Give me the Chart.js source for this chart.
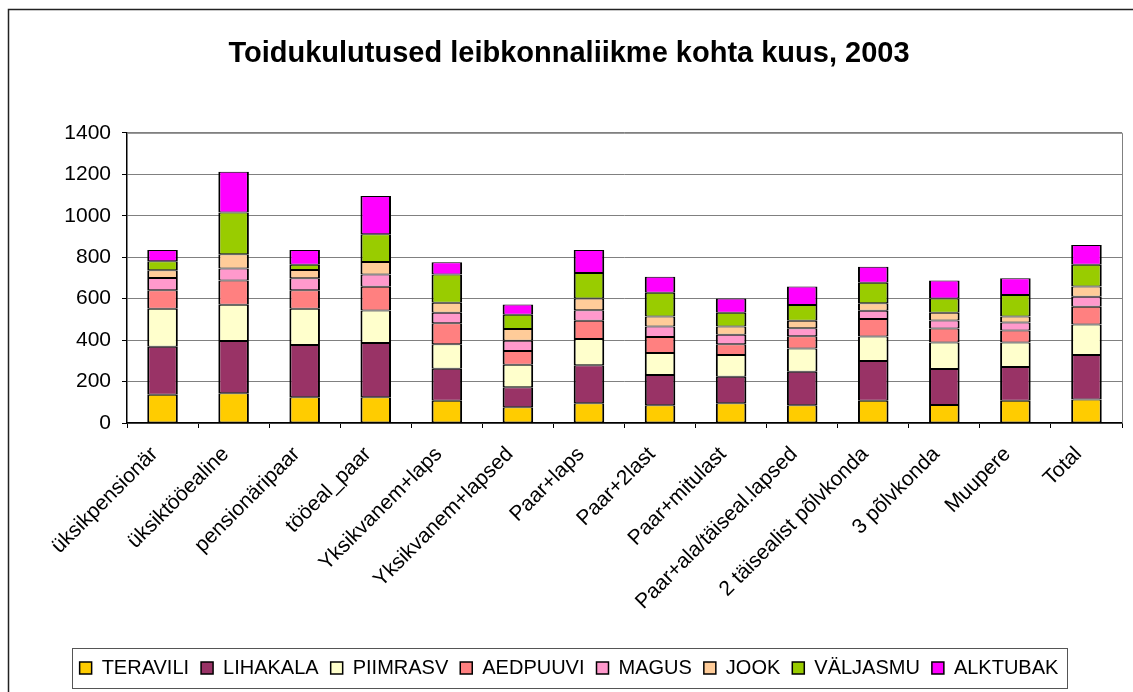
<!DOCTYPE html>
<html>
<head>
<meta charset="utf-8">
<script src="https://cdn.jsdelivr.net/npm/chart.js"></script>
<style>
  html, body { margin: 0; padding: 0; background: #fff; }
</style>
</head>
<body>
<canvas id="foodChart" width="1133" height="692"></canvas>
<script>
const categories = [
  "üksikpensionär", "üksiktööealine", "pensionäripaar", "tööeal_paar",
  "Yksikvanem+laps", "Yksikvanem+lapsed", "Paar+laps", "Paar+2last",
  "Paar+mitulast", "Paar+ala/täiseal.lapsed", "2 täisealist põlvkonda",
  "3 põlvkonda", "Muupere", "Total"
];

const teravili = [136, 144, 124, 124, 107, 76, 95, 86, 95, 86, 107, 87, 107, 113];
const lihakala = [232, 252, 252, 262, 155, 97, 184, 145, 128, 161, 192, 173, 163, 215];
const piimrasv = [183, 174, 175, 157, 118, 108, 126, 107, 105, 112, 118, 128, 118, 147];
const aedpuuvi = [89, 118, 89, 114, 101, 66, 88, 77, 52, 59, 85, 68, 58, 86];
const magus    = [59, 57, 58, 60, 51, 50, 51, 50, 46, 39, 39, 38, 39, 48];
const jook     = [38, 69, 40, 60, 48, 57, 57, 49, 39, 36, 37, 38, 29, 49];
const valjasmu = [43, 201, 26, 134, 136, 68, 123, 114, 67, 76, 99, 69, 103, 105];
const alktubak = [54, 197, 70, 184, 59, 50, 110, 78, 69, 89, 77, 86, 81, 96];

const yTicks = [0, 200, 400, 600, 800, 1000, 1200, 1400];

const FONT = "'Liberation Sans', Arial, sans-serif";
const gridGray = "#808080";

function series(label, data, color) {
  return {
    label: label,
    data: data,
    backgroundColor: color,
    borderColor: "#000",
    borderWidth: { top: 1, bottom: 1, left: 2, right: 2 },
    borderSkipped: false,
    barPercentage: 0.43,
    categoryPercentage: 1
  };
}

// white page, outer frame, plot border and legend box
const frame = {
  id: "frame",
  beforeDraw(chart) {
    const ctx = chart.ctx;
    ctx.save();
    ctx.fillStyle = "#fff";
    ctx.fillRect(0, 0, chart.width, chart.height);
    ctx.strokeStyle = "#222";
    ctx.lineWidth = 1.5;
    ctx.strokeRect(8.5, 9.5, chart.width + 20, chart.height + 20);
    ctx.restore();
  },
  beforeDatasetsDraw(chart) {
    const a = chart.chartArea;
    const ctx = chart.ctx;
    ctx.save();
    ctx.strokeStyle = gridGray;
    ctx.lineWidth = 1;
    ctx.beginPath();
    ctx.moveTo(a.left, a.top + 0.5);
    ctx.lineTo(a.right + 0.5, a.top + 0.5);
    ctx.lineTo(a.right + 0.5, a.bottom);
    ctx.stroke();
    ctx.restore();
  },
  afterDraw(chart) {
    const boxes = chart.legend.legendHitBoxes;
    if (!boxes || !boxes.length) return;
    const left = Math.min(...boxes.map(b => b.left)) - 8;
    const right = Math.max(...boxes.map(b => b.left + b.width)) + 8;
    const top = Math.min(...boxes.map(b => b.top)) - 10;
    const bottom = Math.max(...boxes.map(b => b.top + b.height)) + 10;
    const ctx = chart.ctx;
    ctx.save();
    ctx.strokeStyle = "#555";
    ctx.lineWidth = 1;
    ctx.strokeRect(Math.round(left) + 0.5, Math.round(top) + 0.5, Math.round(right - left), Math.round(bottom - top));
    ctx.restore();
  }
};

const ctx = document.getElementById("foodChart").getContext("2d");
new Chart(ctx, {
  type: "bar",
  data: {
    labels: categories,
    datasets: [
      series("TERAVILI", teravili, "#FFCC00"),
      series("LIHAKALA", lihakala, "#993366"),
      series("PIIMRASV", piimrasv, "#FFFFCC"),
      series("AEDPUUVI", aedpuuvi, "#FF8080"),
      series("MAGUS", magus, "#FF99CC"),
      series("JOOK", jook, "#FFCC99"),
      series("VÄLJASMU", valjasmu, "#99CC00"),
      series("ALKTUBAK", alktubak, "#FF00FF")
    ]
  },
  options: {
    responsive: false,
    animation: false,
    devicePixelRatio: 1,
    layout: { padding: { left: 16, right: 11, top: 0, bottom: 4 } },
    plugins: {
      title: {
        display: true,
        text: "Toidukulutused leibkonnaliikme kohta kuus, 2003",
        color: "#000",
        font: { family: FONT, size: 29, weight: "bold" },
        padding: { top: 37, bottom: 61 }
      },
      legend: {
        position: "bottom",
        labels: {
          color: "#000",
          font: { family: FONT, size: 20 },
          boxWidth: 12,
          boxHeight: 12,
          padding: 12
        }
      },
      tooltip: { enabled: false }
    },
    scales: {
      x: {
        stacked: true,
        afterFit(scale) {
          scale.height = 223;
        },
        grid: {
          offset: true,
          drawOnChartArea: false,
          drawTicks: true,
          tickLength: 5,
          tickColor: "#000"
        },
        border: { color: "#000", width: 1.5 },
        ticks: {
          color: "#000",
          font: { family: FONT, size: 21 },
          minRotation: 45,
          maxRotation: 45,
          autoSkip: false,
          padding: 14,
          labelOffset: -8
        }
      },
      y: {
        stacked: true,
        min: 0,
        max: 1400,
        afterBuildTicks(scale) {
          scale.ticks = yTicks.map(v => ({ value: v }));
        },
        afterFit(scale) {
          scale.width = 111;
        },
        grid: {
          color: gridGray,
          tickColor: "#000",
          tickLength: 5
        },
        border: { color: "#000", width: 1.5 },
        ticks: {
          color: "#000",
          font: { family: FONT, size: 21 },
          padding: 11,
          callback: v => String(v)
        }
      }
    }
  },
  plugins: [frame]
});
</script>
</body>
</html>
